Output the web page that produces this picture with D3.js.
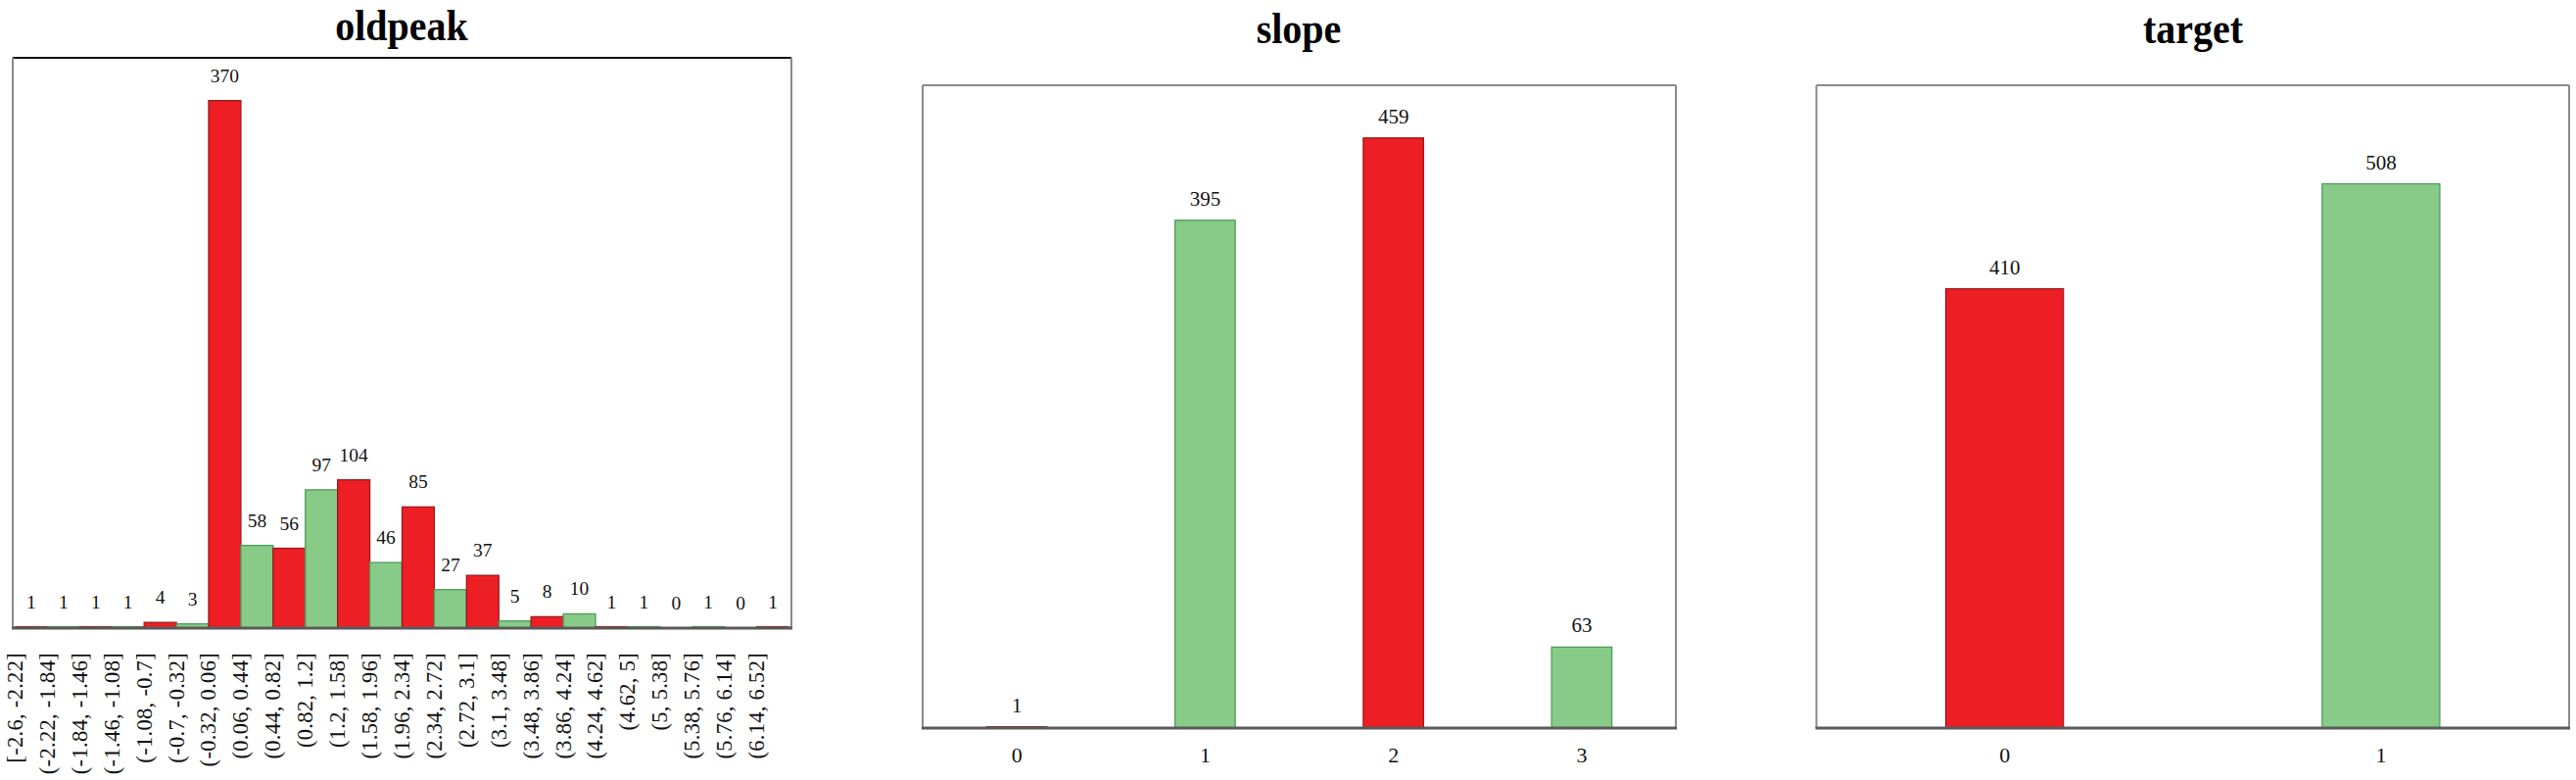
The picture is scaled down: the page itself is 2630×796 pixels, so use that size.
<!DOCTYPE html>
<html>
<head>
<meta charset="utf-8">
<script src="https://cdn.jsdelivr.net/npm/d3@7"></script>
<style>
html,body{margin:0;padding:0;background:#fff;}
svg{display:block;}
</style>
</head>
<body>
<svg id="chart" width="2630" height="796"></svg>
<script>
// ---------------- DATA ----------------
const oldpeakBins = ["[-2.6, -2.22]","(-2.22, -1.84]","(-1.84, -1.46]","(-1.46, -1.08]","(-1.08, -0.7]","(-0.7, -0.32]","(-0.32, 0.06]","(0.06, 0.44]","(0.44, 0.82]","(0.82, 1.2]","(1.2, 1.58]","(1.58, 1.96]","(1.96, 2.34]","(2.34, 2.72]","(2.72, 3.1]","(3.1, 3.48]","(3.48, 3.86]","(3.86, 4.24]","(4.24, 4.62]","(4.62, 5]","(5, 5.38]","(5.38, 5.76]","(5.76, 6.14]","(6.14, 6.52]"];
const oldpeakCounts = [1,1,1,1,4,3,370,58,56,97,104,46,85,27,37,5,8,10,1,1,0,1,0,1];

const slopeCategories = ["0","1","2","3"];
const slopeCounts = [1,395,459,63];

const targetCategories = ["0","1"];
const targetCounts = [410,508];

const oldpeakYMax = 400, slopeYMax = 500, targetYMax = 600;

// ---------------- STYLE ----------------
const RED = "#ED1F24", RED_STROKE = "#9a1a1d";
const GREEN = "#88CA88", GREEN_STROKE = "#4e9d5b";
const palette = [{fill:RED, stroke:RED_STROKE},{fill:GREEN, stroke:GREEN_STROKE}];
const oldpeakColorIdx = [0,1,0,1,0,1,0,1,0,1,0,1,0,1,0,1,0,1,0,1,0,1,0,0];
const slopeColorIdx = [0,1,0,1];
const targetColorIdx = [0,1];

const svg = d3.select("#chart");
const SERIF = "'Liberation Serif','Times New Roman',serif";

function panel(opts){
  const g = svg.append("g");
  const {left,right,top,bottom} = opts;
  const x = d3.scaleBand().domain(opts.cats).range([opts.barL ?? left, opts.barR ?? right])
    .paddingInner(opts.pi).paddingOuter(opts.po);
  const y = d3.scaleLinear().domain([0, opts.ymax]).range([bottom, top]);

  // title
  g.append("text")
    .attr("transform", `translate(${opts.titleX},${opts.titleY}) scale(1,1.12)`)
    .attr("text-anchor","middle")
    .style("font-family", SERIF).style("font-weight","bold").style("font-size","40px")
    .text(opts.title);

  // frame
  g.append("line").attr("x1",left).attr("x2",right).attr("y1",top).attr("y2",top)
    .attr("stroke", opts.topColor).attr("stroke-width",2);
  g.append("line").attr("x1",left).attr("x2",left).attr("y1",top).attr("y2",bottom)
    .attr("stroke","#8a8a8a").attr("stroke-width",2);
  g.append("line").attr("x1",right).attr("x2",right).attr("y1",top).attr("y2",bottom)
    .attr("stroke","#8a8a8a").attr("stroke-width",2);

  // bars
  const data = opts.cats.map((c,i)=>({c, v:opts.vals[i], col:palette[opts.colIdx[i]]}));
  g.selectAll("rect.bar").data(data.filter(d=>d.v>0)).join("rect")
    .attr("class","bar")
    .attr("x", d=>x(d.c)).attr("width", x.bandwidth())
    .attr("y", d=>y(d.v)).attr("height", d=>y(0)-y(d.v))
    .attr("fill", d=>d.col.fill).attr("stroke", d=>d.col.stroke).attr("stroke-width",1.3);

  // value labels
  g.selectAll("text.val").data(data).join("text")
    .attr("class","val")
    .attr("x", d=>x(d.c)+x.bandwidth()/2)
    .attr("y", d=>y(d.v)-opts.labGap)
    .attr("text-anchor","middle")
    .style("font-family",SERIF).style("font-size",opts.labSize+"px").attr("fill","#111")
    .text(d=>d.v);

  // x axis
  const ax = g.append("g").attr("transform",`translate(0,${bottom})`)
    .call(d3.axisBottom(x).tickSize(0).tickPadding(opts.tickPad));
  ax.select(".domain").remove();
  g.append("line").attr("x1",left-1).attr("x2",right+1).attr("y1",bottom).attr("y2",bottom)
    .attr("stroke","#5a5a5a").attr("stroke-width",3);
  ax.selectAll("text").style("font-family",SERIF).style("font-size",opts.tickSize+"px").attr("fill","#111");
  if (opts.rotate){
    ax.selectAll("text")
      .style("letter-spacing","0.3px")
      .attr("transform","rotate(-90)")
      .attr("text-anchor","end")
      .attr("x",-25).attr("y",-9).attr("dy",0);
  }
  return g;
}

panel({title:"oldpeak", titleX:410, titleY:41, cats:oldpeakBins, vals:oldpeakCounts, colIdx:oldpeakColorIdx,
  left:13, right:808, top:59, bottom:641, barL:15.5, barR:805.5, pi:0, po:0, ymax:oldpeakYMax,
  topColor:"#111", labGap:19, labSize:19.5, tickSize:22.5, tickPad:0, rotate:true});

panel({title:"slope", titleX:1326, titleY:44, cats:slopeCategories, vals:slopeCounts, colIdx:slopeColorIdx,
  left:942, right:1711, top:87, bottom:743, pi:0.68, po:0.34, ymax:slopeYMax,
  topColor:"#8a8a8a", labGap:15, labSize:21, tickSize:22, tickPad:19});

panel({title:"target", titleX:2239, titleY:44, cats:targetCategories, vals:targetCounts, colIdx:targetColorIdx,
  left:1854.5, right:2623, top:87, bottom:743, pi:0.6875, po:0.34375, ymax:targetYMax,
  topColor:"#8a8a8a", labGap:15, labSize:21, tickSize:22, tickPad:19});
</script>
</body>
</html>
